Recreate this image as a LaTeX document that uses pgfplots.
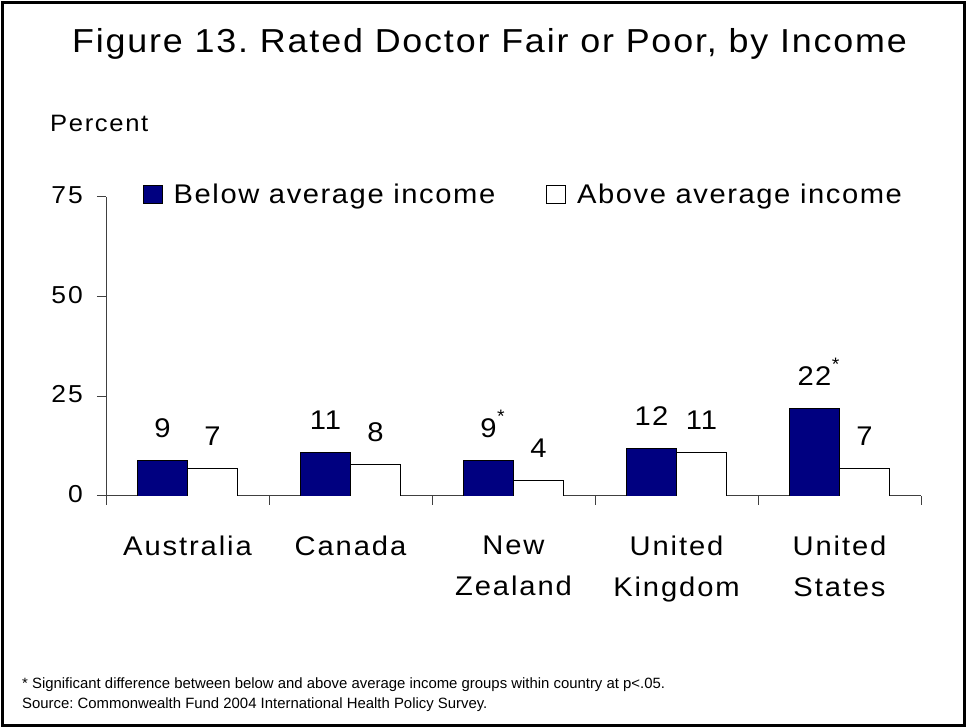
\documentclass[border=0pt]{standalone}
\usepackage{pgfplots}
\pgfplotsset{compat=1.18}
\usepackage{fontspec}
\setmainfont{Liberation Sans}
\newfontfamily\ttlfont[FakeStretch=1.08,LetterSpace=5.5]{Liberation Sans}
\newfontfamily\catfont[FakeStretch=1.08,LetterSpace=7]{Liberation Sans}
\newfontfamily\legfont[FakeStretch=1.08,LetterSpace=5.8]{Liberation Sans}
\newfontfamily\tckfont[FakeStretch=1.08,LetterSpace=8]{Liberation Sans}
\newfontfamily\valfont[FakeStretch=1.08,LetterSpace=4]{Liberation Sans}
\newfontfamily\pctfont[FakeStretch=1.08,LetterSpace=7]{Liberation Sans}
\definecolor{navybar}{RGB}{0,0,128}
\newcommand\sig{\rlap{\hspace{0.5pt}\raisebox{15pt}{\fontsize{18pt}{18pt}\selectfont *}}}
\pgfplotsset{sqlegend/.style={legend image code/.code={\draw[##1] (0pt,-9pt) rectangle (19pt,9pt);}}}
\frenchspacing
\begin{document}
\begin{tikzpicture}[x=1pt,y=1pt]
\path[use as bounding box] (0,0) rectangle (967,728);
\draw[line width=2.5pt] (2.5,2.5) rectangle (964.5,725.5);
\node[anchor=base west, inner sep=0pt, font=\ttlfont\fontsize{33.2pt}{36pt}\selectfont] at (72,675) {Figure 13. Rated Doctor Fair or Poor, by Income};
\node[anchor=base west, inner sep=0pt, font=\pctfont\fontsize{23.7pt}{28pt}\selectfont] at (50,596) {Percent};
\begin{axis}[
 at={(106pt,232pt)}, anchor=south west,
 scale only axis, width=815pt, height=299pt,
 xmin=-0.5, xmax=4.5, ymin=0, ymax=75,
 axis x line*=bottom, axis y line*=left,
 axis line style={black!75, line width=1pt, -},
 ybar=0pt, bar width=50pt,
 ytick={0,25,50,75},
 xtick={0,1,2,3,4},
 xticklabels={Australia,Canada,{New\\Zealand},{United\\Kingdom},{United\\States}},
 minor xtick={-0.5,0.5,1.5,2.5,3.5,4.5},
 tick align=outside,
 major tick length=9pt, minor tick length=9pt,
 major x tick style={draw=none},
 tick style={black!75, line width=1pt},
 /pgf/number format/assume math mode=true,
 yticklabel style={font=\tckfont\fontsize{24.5pt}{28pt}\selectfont, anchor=east, inner sep=0pt, xshift=-14pt, yshift=2pt},
 xticklabel style={font=\catfont\fontsize{27pt}{40.5pt}\selectfont, align=center, anchor=north, inner sep=0pt, yshift=-31pt},
 legend style={at={(rel axis cs:0.045,1.010)}, anchor=west, draw=none, fill=none, inner sep=0pt,
   font=\legfont\fontsize{27pt}{32pt}\selectfont, nodes={inner sep=0pt},
   /tikz/every odd column/.append style={column sep=11pt},
   /tikz/every even column/.append style={column sep=51pt}},
 legend columns=2,
 nodes near coords, point meta=explicit symbolic,
 every node near coord/.append style={font=\valfont\fontsize{27pt}{32pt}\selectfont, anchor=south, inner sep=0pt, yshift=22pt, text=black},
]
\addplot[fill=navybar, draw=black, line width=0.8pt, sqlegend]
  coordinates {(0,9)[9] (1,11)[11] (2,9)[9\sig] (3,12)[12] (4,22)[22\sig]};
\addplot[fill=white, draw=black, line width=0.8pt, sqlegend]
  coordinates {(0,7)[7] (1,8)[8] (2,4)[4] (3,11)[11] (4,7)[7]};
\legend{Below average income, Above average income}
\end{axis}
\node[anchor=base west, inner sep=0pt, font=\fontsize{14.9pt}{18pt}\selectfont] at (22,39) {* Significant difference between below and above average income groups within country at p<.05.};
\node[anchor=base west, inner sep=0pt, font=\fontsize{14.9pt}{18pt}\selectfont] at (22,19) {Source: Commonwealth Fund 2004 International Health Policy Survey.};
\end{tikzpicture}
\end{document}
